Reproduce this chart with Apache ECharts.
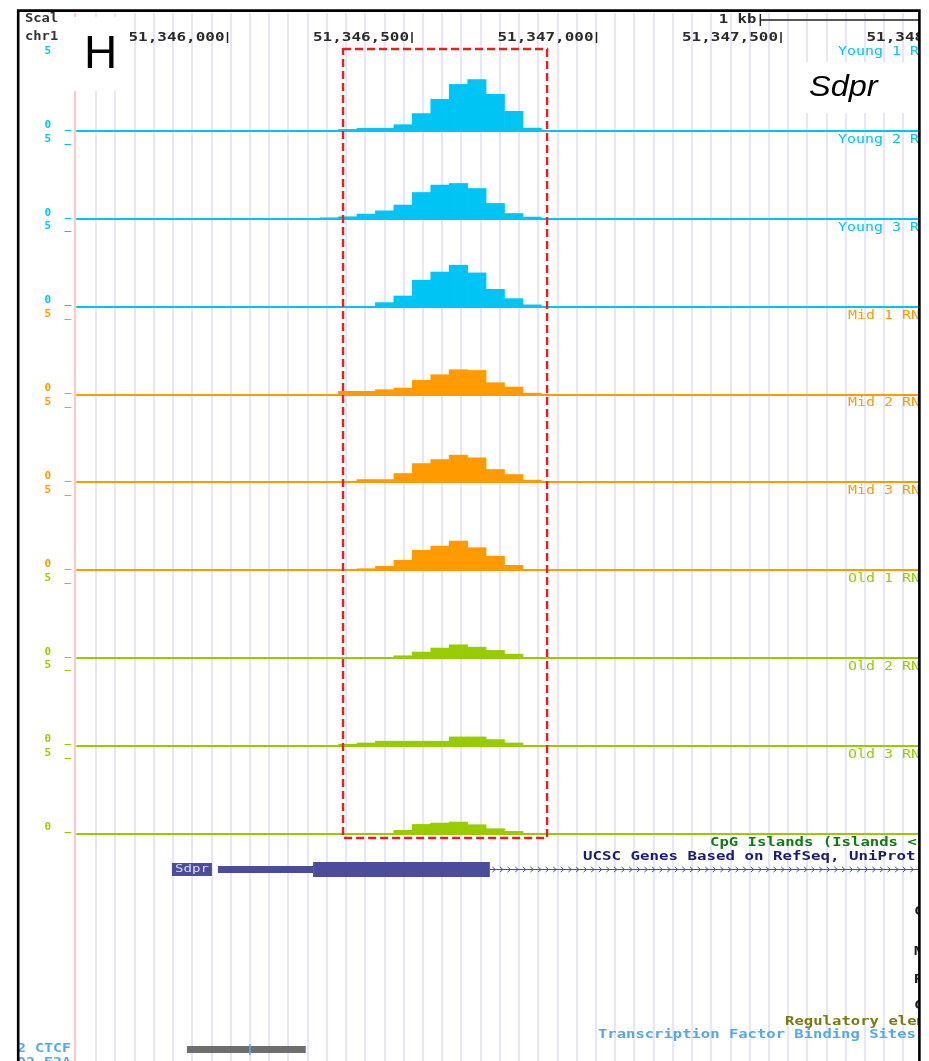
<!DOCTYPE html>
<html>
<head>
<meta charset="utf-8">
<script src="https://cdn.jsdelivr.net/npm/echarts@6/dist/echarts.min.js"></script>
<style>
  html, body { margin: 0; padding: 0; background: #fff; }
  #chart { width: 929px; height: 1061px; }
</style>
</head>
<body>
<div id="chart"></div>
<script>
// ---- data: chr1 window around Sdpr, 50-bp coverage bins ----
const binStarts = [51346250, 51346300, 51346350, 51346400, 51346450, 51346500,
                   51346550, 51346600, 51346650, 51346700, 51346750, 51346800];
const binSize = 50;

const young1 = [0, 0.13, 0.2, 0.2, 0.45, 1.2, 2.16, 3.17, 3.5, 2.5, 1.35, 0.22];
const young2 = [0.09, 0.16, 0.34, 0.56, 0.95, 1.8, 2.3, 2.41, 2.07, 1.06, 0.38, 0.14];
const young3 = [0, 0, 0, 0.29, 0.74, 1.8, 2.36, 2.82, 2.3, 1.19, 0.56, 0.14];
const mid1   = [0, 0.23, 0.23, 0.34, 0.45, 0.97, 1.35, 1.69, 1.64, 0.81, 0.52, 0.11];
const mid2   = [0, 0.09, 0.2, 0.2, 0.61, 1.28, 1.55, 1.85, 1.67, 0.88, 0.54, 0.16];
const mid3   = [0, 0, 0.11, 0.27, 0.68, 1.35, 1.64, 1.98, 1.53, 0.95, 0.34, 0.05];
const old1   = [0, 0, 0, 0, 0.16, 0.41, 0.68, 0.9, 0.74, 0.52, 0.27, 0];
const old2   = [0, 0.11, 0.2, 0.32, 0.32, 0.32, 0.32, 0.61, 0.61, 0.43, 0.2, 0];
const old3   = [0, 0, 0, 0, 0.23, 0.63, 0.72, 0.79, 0.61, 0.34, 0.16, 0];

const trackNames = ['Young 1 RNA-seq', 'Young 2 RNA-seq', 'Young 3 RNA-seq',
                    'Mid 1 RNA-seq', 'Mid 2 RNA-seq', 'Mid 3 RNA-seq',
                    'Old 1 RNA-seq', 'Old 2 RNA-seq', 'Old 3 RNA-seq'];
const trackValues = [young1, young2, young3, mid1, mid2, mid3, old1, old2, old3];
const trackGroup = ['young', 'young', 'young', 'mid', 'mid', 'mid', 'old', 'old', 'old'];
const yTickValues = [0, 5];

const coordTicks = [51346000, 51346500, 51347000, 51347500, 51348000];
const scaleBar = [51347444, 1000];            // start, length (bp)
const geneName = 'Sdpr';
const gene = [51345974, 51346232, 51346711, 51348200]; // txStart, thickStart, exon1 end, beyond view
const tfbsSite = [51345890, 51346212, 51346061];     // start, end, centre mark
const highlight = [51346313, 51346866];

// ---- layout ----
const PX_PER_BP = 0.369;
const ANCHOR_BP = 51346500, ANCHOR_X = 412;
const PLOT_LEFT = 77, PLOT_WIDTH = 912;
const X_MIN = ANCHOR_BP - (ANCHOR_X - PLOT_LEFT) / PX_PER_BP;
const X_MAX = X_MIN + PLOT_WIDTH / PX_PER_BP;
const FIRST_BASE = 131, PITCH = 87.8, TRACK_H = 74;

const colors = { young: '#00c4f4', mid: '#ff9a00', old: '#99cc00' };
const MONO = '"DejaVu Sans Mono", monospace';

// monospace text stretched to a fixed character pitch, anchored at its left edge
function monoText(x, y, text, o) {
  const size = o.size || 12.5;
  const pitch = o.pitch || 9;
  const left = o.align === 'right' ? x - text.length * pitch : x;
  return {
    type: 'text', x: left, y: y, scaleX: pitch / (0.602 * size), z: o.z || 50,
    style: { text: text, fill: o.color || '#333', font: (o.weight || 'bold') + ' ' + size + 'px ' + MONO,
             align: 'left', verticalAlign: 'middle' }
  };
}

const grids = [], xAxes = [], yAxes = [], series = [];
function addGrid(top, height, left, width) {
  grids.push({ left: left == null ? PLOT_LEFT : left, width: width == null ? PLOT_WIDTH : width,
               top: top, height: height, outerBoundsMode: 'none', containLabel: false });
  return grids.length - 1;
}
function hiddenX(extra) {
  return Object.assign({ type: 'value', min: X_MIN, max: X_MAX, show: false }, extra || {});
}

// wiggle tracks: one filled bar per 50-bp bin
trackValues.forEach((vals, i) => {
  const base = FIRST_BASE + PITCH * i;
  const col = colors[trackGroup[i]];
  addGrid(base - TRACK_H, TRACK_H);
  xAxes.push({
    type: 'value', gridIndex: i, min: X_MIN, max: X_MAX,
    axisLine: { show: true, onZero: false, lineStyle: { color: col, width: 2 } },
    axisTick: { show: false }, axisLabel: { show: false }, splitLine: { show: false }
  });
  yAxes.push({
    type: 'value', gridIndex: i, min: 0, max: 5,
    axisLine: { show: false }, axisTick: { show: false }, splitLine: { show: false },
    axisLabel: {
      show: true, customValues: yTickValues, formatter: v => v + '  _',
      margin: 6, color: col, fontFamily: MONO, fontSize: 11, fontWeight: 'bold',
      verticalAlign: 'bottom', lineHeight: 12
    }
  });
  series.push({
    type: 'custom', xAxisIndex: i, yAxisIndex: i, z: 5, silent: true,
    data: binStarts.map((s, k) => [s, s + binSize, vals[k]]),
    renderItem(params, api) {
      const v = api.value(2);
      if (!v) return null;
      const p0 = api.coord([api.value(0), v]);
      const p1 = api.coord([api.value(1), 0]);
      return { type: 'rect', shape: { x: p0[0], y: p0[1], width: p1[0] - p0[0] + 0.6, height: p1[1] - p0[1] },
               style: { fill: col } };
    }
  });
});

// guide lines at a fixed screen spacing
const GUIDE = addGrid(13, 1061 - 13, 96, 823);
xAxes.push({ type: 'value', gridIndex: GUIDE, min: 0, max: 823 / 19.22, interval: 1,
  axisLine: { show: false }, axisTick: { show: false }, axisLabel: { show: false },
  splitLine: { show: true, lineStyle: { color: '#e0e0fa', width: 1.6 } } });
yAxes.push({ type: 'value', gridIndex: GUIDE, min: 0, max: 1, show: false });

// base-position ruler
const RULER = addGrid(32, 11);
xAxes.push(hiddenX({ gridIndex: RULER }));
yAxes.push({ type: 'value', gridIndex: RULER, min: 0, max: 1, show: false });
series.push({
  type: 'custom', xAxisIndex: RULER, yAxisIndex: RULER, z: 20, silent: true,
  data: coordTicks.map(v => [v]),
  renderItem(params, api) {
    const v = api.value(0);
    const t = api.coord([v, 1]), b = api.coord([v, 0]);
    return { type: 'group', children: [
      { type: 'line', shape: { x1: t[0], y1: t[1], x2: b[0], y2: b[1] }, style: { stroke: '#222', lineWidth: 1.5 } },
      monoText(t[0] - 3, (t[1] + b[1]) / 2 + 0.5, v.toLocaleString('en-US'), { pitch: 9.6, color: '#2a2a2a', align: 'right' })
    ] };
  }
});

// scale bar
const SCALE = addGrid(14, 12);
xAxes.push(hiddenX({ gridIndex: SCALE }));
yAxes.push({ type: 'value', gridIndex: SCALE, min: 0, max: 1, show: false });
series.push({
  type: 'custom', xAxisIndex: SCALE, yAxisIndex: SCALE, z: 20, silent: true,
  data: [scaleBar],
  renderItem(params, api) {
    const s = api.value(0), len = api.value(1);
    const t = api.coord([s, 1]), b = api.coord([s, 0]), m = api.coord([s, 0.5]);
    const e = api.coord([s + len, 0.5]);
    return { type: 'group', children: [
      { type: 'line', shape: { x1: t[0], y1: t[1], x2: b[0], y2: b[1] }, style: { stroke: '#222', lineWidth: 1.5 } },
      { type: 'line', shape: { x1: m[0], y1: m[1], x2: e[0], y2: e[1] }, style: { stroke: '#222', lineWidth: 1.5 } },
      monoText(t[0] - 4, m[1], '1 kb', { pitch: 9.4, color: '#2a2a2a', align: 'right' })
    ] };
  }
});

// gene model
const GENE = addGrid(862, 15);
xAxes.push(hiddenX({ gridIndex: GENE }));
yAxes.push({ type: 'value', gridIndex: GENE, min: 0, max: 1, show: false });
const geneColor = '#4b4c9c';
series.push({
  type: 'custom', xAxisIndex: GENE, yAxisIndex: GENE, z: 20, silent: true,
  data: [gene],
  renderItem(params, api) {
    const tx = api.value(0), th = api.value(1), ex = api.value(2), end = api.value(3);
    const a0 = api.coord([tx, 0.73]), a1 = api.coord([th, 0.27]);
    const b0 = api.coord([th, 1]), b1 = api.coord([ex, 0]);
    const m0 = api.coord([ex, 0.5]), m1 = api.coord([end, 0.5]);
    const kids = [
      { type: 'rect', shape: { x: a0[0], y: a0[1], width: a1[0] - a0[0], height: a1[1] - a0[1] }, style: { fill: geneColor } },
      { type: 'rect', shape: { x: b0[0], y: b0[1], width: b1[0] - b0[0], height: b1[1] - b0[1] }, style: { fill: geneColor } },
      { type: 'line', shape: { x1: m0[0], y1: m0[1], x2: m1[0], y2: m1[1] }, style: { stroke: geneColor, lineWidth: 1.2 } }
    ];
    for (let px = m0[0] + 4; px < m1[0]; px += 7.6) {
      kids.push({ type: 'polyline', shape: { points: [[px - 1.5, m0[1] - 2.6], [px + 1.5, m0[1]], [px - 1.5, m0[1] + 2.6]] },
                  style: { stroke: geneColor, lineWidth: 1, fill: null } });
    }
    const boxRight = a0[0] - 6, boxW = 40, boxH = 13, cy = (b0[1] + b1[1]) / 2;
    kids.push({ type: 'rect', shape: { x: boxRight - boxW, y: cy - boxH / 2, width: boxW, height: boxH }, style: { fill: geneColor } });
    kids.push(Object.assign(monoText(boxRight - boxW + 3, cy, geneName, { pitch: 8.5, size: 11, color: '#dcdcf2', weight: 'normal' }), { z2: 5 }));
    return { type: 'group', children: kids };
  }
});

// transcription-factor binding site
const TFBS = addGrid(1046, 7);
xAxes.push(hiddenX({ gridIndex: TFBS }));
yAxes.push({ type: 'value', gridIndex: TFBS, min: 0, max: 1, show: false });
series.push({
  type: 'custom', xAxisIndex: TFBS, yAxisIndex: TFBS, z: 20, silent: true,
  data: [tfbsSite],
  renderItem(params, api) {
    const p0 = api.coord([api.value(0), 1]), p1 = api.coord([api.value(1), 0]);
    const c0 = api.coord([api.value(2), 1.3]), c1 = api.coord([api.value(2), -0.3]);
    return { type: 'group', children: [
      { type: 'rect', shape: { x: p0[0], y: p0[1], width: p1[0] - p0[0], height: p1[1] - p0[1] }, style: { fill: '#6e6e6e' } },
      { type: 'line', shape: { x1: c0[0], y1: c0[1], x2: c1[0], y2: c1[1] }, style: { stroke: '#5aaee6', lineWidth: 1.5 } }
    ] };
  }
});

// highlighted peak region
const HL = addGrid(49, 789);
xAxes.push(hiddenX({ gridIndex: HL }));
yAxes.push({ type: 'value', gridIndex: HL, min: 0, max: 1, show: false });
series.push({
  type: 'custom', xAxisIndex: HL, yAxisIndex: HL, z: 30, silent: true,
  data: [highlight],
  renderItem(params, api) {
    const p0 = api.coord([api.value(0), 1]), p1 = api.coord([api.value(1), 0]);
    return { type: 'rect', shape: { x: p0[0], y: p0[1], width: p1[0] - p0[0], height: p1[1] - p0[1] },
             style: { fill: null, stroke: '#ee1c1c', lineWidth: 2.4, lineDash: [8, 4] } };
  }
});

// ---- text and frame ----
const graphics = [
  { type: 'line', z: 1, shape: { x1: 75, y1: 13, x2: 75, y2: 1061 }, style: { stroke: '#ffc6c6', lineWidth: 2 } },
  { type: 'rect', z: 40, shape: { x: 60, y: 17, width: 70, height: 74 }, style: { fill: '#fff' } },
  { type: 'rect', z: 40, shape: { x: 796, y: 62, width: 123, height: 51 }, style: { fill: '#fff' } },
  monoText(25, 19, 'Scal', { pitch: 8.3 }),
  monoText(25, 37, 'chr1', { pitch: 8.3 }),
  { type: 'text', z: 60, x: 84, y: 55, style: { text: 'H', fill: '#000', font: '46px "Liberation Sans", Arial, sans-serif',
      align: 'left', verticalAlign: 'middle' } },
  { type: 'text', z: 60, x: 809, y: 88, scaleX: 1.12, style: { text: 'Sdpr', fill: '#000', font: 'italic 29px "Liberation Sans", Arial, sans-serif',
      align: 'left', verticalAlign: 'middle' } },
  monoText(710, 843, 'CpG Islands (Islands < 300 Bases are Light Green)', { pitch: 9.4, size: 11.5, color: '#127a12' }),
  monoText(583, 857, 'UCSC Genes Based on RefSeq, UniProt, GenBank, CCDS and Comparative Genomics', { pitch: 9.5, size: 11.5, color: '#1a1a78' }),
  monoText(914, 912, 'Conservation', { pitch: 9.4, size: 11.5, color: '#222' }),
  monoText(914, 952, 'Multiz Alignments', { pitch: 9.4, size: 11.5, color: '#222' }),
  monoText(914, 980, 'RepeatMasker', { pitch: 9.4, size: 11.5, color: '#222' }),
  monoText(914, 1006, 'Common SNPs', { pitch: 9.4, size: 11.5, color: '#222' }),
  monoText(785, 1022, 'Regulatory elements from ORegAnno', { pitch: 9.4, size: 11.5, color: '#7a7a14' }),
  monoText(598, 1035, 'Transcription Factor Binding Sites Conserved in Human/Mouse/Rat', { pitch: 9.35, size: 11.5, color: '#55a8e8' }),
  monoText(71, 1049, 'V$CTCF_02 CTCF', { pitch: 9, size: 11.5, color: '#55a8e8', align: 'right' }),
  monoText(71, 1063, 'V$E47_02 E2A', { pitch: 9, size: 11.5, color: '#55a8e8', align: 'right' }),
  // margins outside the frame
  { type: 'rect', z: 100, shape: { x: 0, y: 0, width: 18, height: 1061 }, style: { fill: '#fff' } },
  { type: 'rect', z: 100, shape: { x: 920, y: 0, width: 9, height: 1061 }, style: { fill: '#fff' } },
  { type: 'rect', z: 100, shape: { x: 0, y: 0, width: 929, height: 9.5 }, style: { fill: '#fff' } },
  { type: 'rect', z: 101, shape: { x: 18.2, y: 10.6, width: 901.2, height: 1100 }, style: { fill: null, stroke: '#000', lineWidth: 2.6 } }
];
trackNames.forEach((name, i) => {
  const base = FIRST_BASE + PITCH * i;
  const x = trackGroup[i] === 'young' ? 838 : 848;
  graphics.push(monoText(x, base - 79, name, { pitch: 9, color: colors[trackGroup[i]], weight: 'normal' }));
});

const chart = echarts.init(document.getElementById('chart'), null, { renderer: 'canvas' });
chart.setOption({
  animation: false,
  backgroundColor: '#fff',
  grid: grids,
  xAxis: xAxes,
  yAxis: yAxes,
  series: series,
  graphic: { elements: graphics }
});
</script>
</body>
</html>
